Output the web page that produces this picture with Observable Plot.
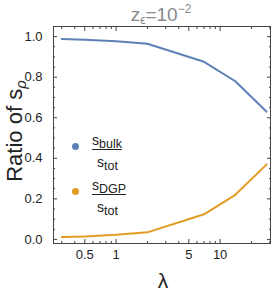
<!DOCTYPE html>
<html><head><meta charset="utf-8">
<script src="https://cdn.jsdelivr.net/npm/d3@7"></script>
<script src="https://cdn.jsdelivr.net/npm/@observablehq/plot@0.6"></script>
<style>
body{margin:0;background:#fff;font-family:"Liberation Sans",Arial,sans-serif;}
#wrap{position:relative;width:272px;height:291px;overflow:hidden;}
.abs{position:absolute;white-space:nowrap;line-height:1;}
</style></head>
<body><div id="wrap"></div>
<script>
const lambda = [0.3, 0.5, 1, 2, 7, 14, 28];
const sBulk  = [0.988, 0.985, 0.977, 0.965, 0.876, 0.78, 0.63];
const sDGP   = [0.012, 0.015, 0.023, 0.035, 0.124, 0.22, 0.37];
const seriesNames = ["bulk", "DGP"];
const seriesColors = ["#5E81B5", "#E19C24"];
const xTicks = [0.5, 1, 5, 10];
const xMinor = [0.3,0.4,0.6,0.7,0.8,0.9,2,3,4,6,7,8,9,20,30];
const yTicks = [0, 0.2, 0.4, 0.6, 0.8, 1.0];
const yMinor = [0.05,0.1,0.15,0.25,0.3,0.35,0.45,0.5,0.55,0.65,0.7,0.75,0.85,0.9,0.95,1.05];

const rows = [];
lambda.forEach((l,i)=>{
  rows.push({l, v:sBulk[i], s:seriesNames[0]});
  rows.push({l, v:sDGP[i], s:seriesNames[1]});
});

const tickColor = "#444";
const chart = Plot.plot({
  width: 272, height: 291,
  marginLeft: 53, marginRight: 2, marginTop: 26, marginBottom: 48,
  style: {fontFamily: '"Liberation Sans", Arial, sans-serif', background: "transparent", color: "#222"},
  x: {type: "log", domain: [0.25, 30.5]},
  y: {domain: [-0.02, 1.05]},
  color: {domain: seriesNames, range: seriesColors},
  marks: [
    Plot.axisX({ticks: xTicks, tickSize: -4, tickPadding: 10, tickFormat: d => String(d), fontSize: 13, label: null, stroke: tickColor}),
    Plot.axisX({ticks: xMinor, tickSize: -2, tickFormat: () => "", label: null, stroke: tickColor}),
    Plot.axisX({anchor: "top", ticks: xTicks, tickSize: -4, tickFormat: () => "", label: null, stroke: tickColor}),
    Plot.axisX({anchor: "top", ticks: xMinor, tickSize: -2, tickFormat: () => "", label: null, stroke: tickColor}),
    Plot.axisY({ticks: yTicks, tickSize: -4, tickPadding: 15, tickFormat: d3.format(".1f"), fontSize: 13, label: null, stroke: tickColor}),
    Plot.axisY({ticks: yMinor, tickSize: -2, tickFormat: () => "", label: null, stroke: tickColor}),
    Plot.axisY({anchor: "right", ticks: yTicks, tickSize: -4, tickFormat: () => "", label: null, stroke: tickColor}),
    Plot.axisY({anchor: "right", ticks: yMinor, tickSize: -2, tickFormat: () => "", label: null, stroke: tickColor}),
    Plot.frame({stroke: tickColor}),
    Plot.line(rows, {x: "l", y: "v", z: "s", stroke: "s", strokeWidth: 2})
  ]
});
const wrap = document.getElementById("wrap");
chart.style.position = "absolute"; chart.style.left = "0"; chart.style.top = "0";
wrap.appendChild(chart);

function add(html, css){
  const d = document.createElement("div");
  d.className = "abs"; d.innerHTML = html; Object.assign(d.style, css);
  wrap.appendChild(d); return d;
}
// title
add('z<sub style="font-size:12px;vertical-align:-3px">ϵ</sub>=10<sup style="font-size:12px;vertical-align:8px">−2</sup>',
    {left:"161px", top:"3px", transform:"translateX(-50%)", fontSize:"19px", color:"#8a8a8a"});
// y label
add('Ratio of s<sub style="font-size:15px;vertical-align:-4px;font-style:italic">ρ</sub>',
    {left:"16px", top:"131px", transform:"translate(-50%,-50%) rotate(-90deg)", fontSize:"22px", color:"#222"});
// x label
add('λ', {left:"163px", top:"270px", transform:"translateX(-50%)", fontSize:"21px", color:"#222"});
// legend
const subs = ["bulk","DGP"];
subs.forEach((sub,i)=>{
  const dy = i*45;
  add('', {left:(75-3.5)+"px", top:(146.7+dy-3.5)+"px", width:"7px", height:"7px", borderRadius:"50%", background:seriesColors[i]});
  add('s<span style="font-size:12.5px;position:relative;top:3px">'+sub+'</span>',
      {left:"92px", top:(133+dy)+"px", fontSize:"14px", color:"#222", borderBottom:"1.2px solid #222", paddingBottom:"1px"});
  add('s<span style="font-size:12.5px;position:relative;top:3px">tot</span>',
      {left:"97px", top:(155+dy)+"px", fontSize:"14px", color:"#222"});
});
</script></body></html>
